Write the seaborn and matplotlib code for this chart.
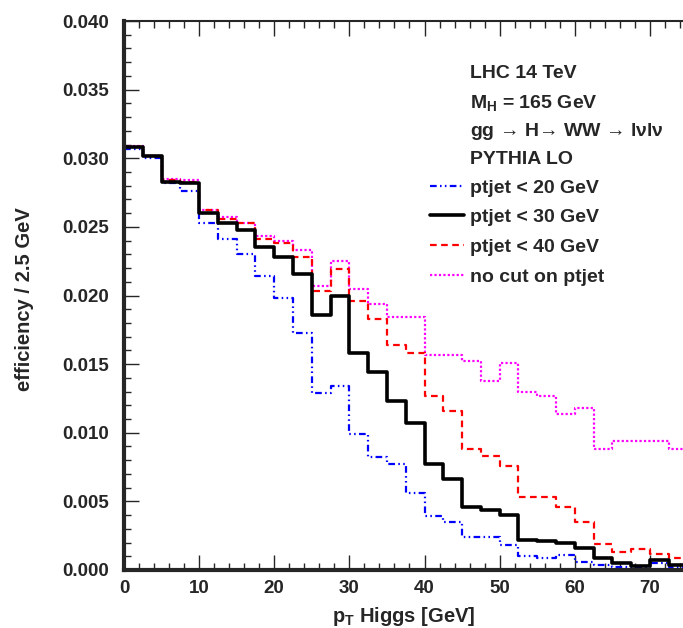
import numpy as np
import pandas as pd
import seaborn as sns
import matplotlib
matplotlib.use("Agg")
import matplotlib.pyplot as plt
from matplotlib.ticker import MultipleLocator, FormatStrFormatter

# bin edges of 2.5 GeV, pT Higgs
edges = np.arange(0, 75.1, 2.5)
centers = edges[:-1] + 1.25

# efficiency per 2.5 GeV
eff_20 = [0.0307, 0.0300, 0.0282, 0.0276, 0.0253, 0.0241, 0.0230, 0.0214, 0.0198, 0.0173,
          0.0129, 0.0134, 0.0099, 0.0082, 0.0077, 0.0056, 0.0039, 0.0035, 0.0024, 0.0024,
          0.0018, 0.0010, 0.0009, 0.0011, 0.0006, 0.0004, 0.0002, 0.0002, 0.0005, 0.0002]
eff_30 = [0.0308, 0.0302, 0.0283, 0.0282, 0.0260, 0.0253, 0.0248, 0.0235, 0.0228, 0.0216,
          0.0186, 0.0200, 0.0158, 0.0144, 0.0123, 0.0107, 0.0077, 0.0066, 0.0046, 0.0044,
          0.0040, 0.0022, 0.0021, 0.0020, 0.0016, 0.0009, 0.0005, 0.0003, 0.0007, 0.0004]
eff_40 = [0.0308, 0.0302, 0.0284, 0.0283, 0.0262, 0.0256, 0.0253, 0.0241, 0.0238, 0.0228,
          0.0203, 0.0219, 0.0196, 0.0183, 0.0164, 0.0158, 0.0127, 0.0116, 0.0088, 0.0083,
          0.0076, 0.0053, 0.0053, 0.0046, 0.0035, 0.0019, 0.0013, 0.0015, 0.0012, 0.0009]
eff_nocut = [0.0309, 0.0302, 0.0285, 0.0284, 0.0262, 0.0257, 0.0253, 0.0243, 0.0240, 0.0233,
             0.0207, 0.0225, 0.0205, 0.0194, 0.0184, 0.0184, 0.0157, 0.0157, 0.0152, 0.0138,
             0.0151, 0.0130, 0.0127, 0.0114, 0.0118, 0.0088, 0.0094, 0.0094, 0.0094, 0.0088]

labels = ["ptjet < 20 GeV", "ptjet < 30 GeV", "ptjet < 40 GeV", "no cut on ptjet"]
series = [eff_20, eff_30, eff_40, eff_nocut]
colors = ["#0000ff", "black", "#ff0000", "#ff00ff"]
widths = [1.6, 2.6, 1.6, 1.6]
styles = [(0, (3, 1.5, 0.7, 1.5, 0.7, 1.5)), "-", (0, (3, 2)), (0, (1, 1))]
xtick_vals = [0, 10, 20, 30, 40, 50, 60, 70]

sns.set_style("ticks")
plt.rcParams["font.family"] = ["Liberation Sans", "DejaVu Sans"]
plt.rcParams["font.weight"] = "bold"
plt.rcParams["mathtext.fontset"] = "custom"
plt.rcParams["mathtext.rm"] = "Liberation Sans"
plt.rcParams["mathtext.bf"] = "Liberation Sans:bold"
plt.rcParams["mathtext.default"] = "bf"

fig = plt.figure(figsize=(6.83, 6.28), dpi=100)
# axis runs past the right edge of the picture, like the cropped original
ax = fig.add_axes([124 / 683, 58 / 628, 601 / 683, 549 / 628])

# draw no-cut first so the others sit on top
order = [3, 2, 0, 1]
handles = {}
for i in order:
    df = pd.DataFrame({"pt": centers, "eff": series[i]})
    sns.histplot(data=df, x="pt", weights="eff", binwidth=2.5, binrange=(edges[0], edges[-1]),
                 element="step", fill=False, color=colors[i], linewidth=widths[i],
                 linestyle=styles[i], ax=ax)
    handles[i] = ax.lines[-1]

ax.set_xlim(0, 80)
ax.set_ylim(0, 0.040)
ax.set_xticks(xtick_vals)
ax.xaxis.set_minor_locator(MultipleLocator(2))
ax.yaxis.set_major_locator(MultipleLocator(0.005))
ax.yaxis.set_minor_locator(MultipleLocator(0.001))
ax.yaxis.set_major_formatter(FormatStrFormatter("%.3f"))
ax.tick_params(which="both", direction="in", top=True, right=True, width=1, labelsize=13.5)
ax.tick_params(which="major", length=10.5)
ax.tick_params(which="minor", length=5)
ax.tick_params(axis="y", pad=11)
ax.tick_params(axis="x", pad=7)

for s in ["left", "bottom"]:
    ax.spines[s].set_linewidth(3)
ax.spines["top"].set_linewidth(1.5)

ax.set_xlabel("p$_\\mathbf{T}$ Higgs [GeV]", fontsize=14.5, fontweight="bold")
ax.set_ylabel("efficiency / 2.5 GeV", fontsize=14.5, fontweight="bold")
ax.xaxis.set_label_coords(0.466, -0.064)
ax.yaxis.set_label_coords(-0.149, 0.494)

tx = (470 - 124) / 601
txt_kw = dict(transform=ax.transAxes, fontsize=14, fontweight="bold", va="center")
ax.text(tx, (570 - 74) / 549, "LHC 14 TeV", **txt_kw)
ax.text(tx, (570 - 103) / 549, "M$_{H}$ = 165 GeV", **txt_kw)
ax.text(tx, (570 - 132) / 549, "gg \u2192 H\u2192 WW \u2192 $\\mathrm{l\\nu l\\nu}$", **txt_kw)
ax.text(tx, (570 - 160) / 549, "PYTHIA LO", **txt_kw)

leg = ax.legend([handles[i] for i in range(4)], labels, loc="upper left",
                bbox_to_anchor=((430 - 124) / 601, (570 - 179) / 549), frameon=False,
                borderpad=0, borderaxespad=0, handlelength=1.75, handletextpad=0.3,
                labelspacing=0.62, prop={"size": 14, "weight": "bold"})

fig.savefig("out.png", dpi=100)
